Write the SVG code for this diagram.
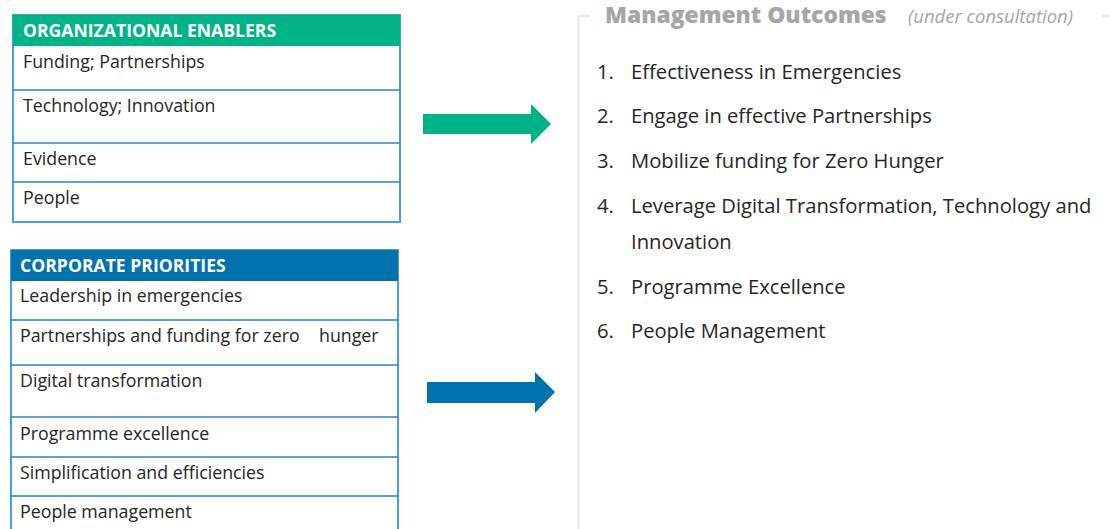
<svg xmlns="http://www.w3.org/2000/svg" width="1110" height="529" viewBox="0 0 1110 529">
  <style>
    .cell { font-family: "Open Sans", "Liberation Sans", sans-serif; font-size: 17.8px; fill: #262626; }
    .head { font-family: "Open Sans", "Liberation Sans", sans-serif; font-size: 17.6px; font-weight: bold; fill: #ffffff; }
    .frame { fill: #ffffff; stroke: #4aa0d6; stroke-width: 2; }
    .rule { stroke: #2d83c5; stroke-width: 1.6; }
    .item { font-family: "Open Sans", "Liberation Sans", sans-serif; font-size: 20.2px; fill: #262626; }
    .title { font-family: "Open Sans", "Liberation Sans", sans-serif; font-size: 22.8px; font-weight: 800; fill: #a6a6a6; }
    .sub { font-family: "Open Sans", "Liberation Sans", sans-serif; font-size: 18.5px; font-style: italic; fill: #a6a6a6; }
    .box { stroke: #ececec; stroke-width: 2.5; fill: none; }
  </style>

  <rect width="1110" height="529" fill="#ffffff"/>

  <!-- Organizational enablers table -->
  <g id="enablers">
    <rect class="frame" x="13" y="15" width="387" height="207"/>
    <rect x="13" y="15" width="387" height="31" fill="#00b386"/>
    <text class="head" x="23" y="37">ORGANIZATIONAL ENABLERS</text>
    <line class="rule" x1="13" y1="90" x2="400" y2="90"/>
    <line class="rule" x1="13" y1="143" x2="400" y2="143"/>
    <line class="rule" x1="13" y1="182" x2="400" y2="182"/>
    <text class="cell" x="23" y="68">Funding; Partnerships</text>
    <text class="cell" x="23" y="112">Technology; Innovation</text>
    <text class="cell" x="23" y="165">Evidence</text>
    <text class="cell" x="23" y="204">People</text>
  </g>

  <!-- Corporate priorities table -->
  <g id="priorities">
    <rect class="frame" x="11" y="250" width="387" height="290"/>
    <rect x="11" y="250" width="387" height="31" fill="#0072ae"/>
    <text class="head" x="20" y="272">CORPORATE PRIORITIES</text>
    <line class="rule" x1="11" y1="320" x2="398" y2="320"/>
    <line class="rule" x1="11" y1="365" x2="398" y2="365"/>
    <line class="rule" x1="11" y1="417" x2="398" y2="417"/>
    <line class="rule" x1="11" y1="457" x2="398" y2="457"/>
    <line class="rule" x1="11" y1="496" x2="398" y2="496"/>
    <text class="cell" x="20" y="302">Leadership in emergencies</text>
    <text class="cell" x="20" y="342">Partnerships and funding for zero<tspan x="319">hunger</tspan></text>
    <text class="cell" x="20" y="387">Digital transformation</text>
    <text class="cell" x="20" y="440">Programme excellence</text>
    <text class="cell" x="20" y="479">Simplification and efficiencies</text>
    <text class="cell" x="20" y="518">People management</text>
  </g>

  <!-- Block arrows -->
  <g id="connectors">
    <polygon points="423,114 531,114 531,104 551,124 531,144 531,134 423,134" fill="#00b386"/>
    <polygon points="427,382 535,382 535,372 555,392 535,413 535,403 427,403" fill="#0072ae"/>
  </g>

  <!-- Management outcomes panel -->
  <g id="outcomes">
    <path class="box" d="M590,16 H578.5 V529"/>
    <line class="box" x1="1102" y1="16" x2="1110" y2="16"/>
    <text class="title" x="605" y="23">Management Outcomes</text>
    <text class="sub" x="908" y="23">(under consultation)</text>
    <text class="item" x="597" y="79">1.</text>
    <text class="item" x="631" y="79">Effectiveness in Emergencies</text>
    <text class="item" x="597" y="123">2.</text>
    <text class="item" x="631" y="123">Engage in effective Partnerships</text>
    <text class="item" x="597" y="168">3.</text>
    <text class="item" x="631" y="168">Mobilize funding for Zero Hunger</text>
    <text class="item" x="597" y="213">4.</text>
    <text class="item" x="631" y="213">Leverage Digital Transformation, Technology and</text>
    <text class="item" x="631" y="249">Innovation</text>
    <text class="item" x="597" y="294">5.</text>
    <text class="item" x="631" y="294">Programme Excellence</text>
    <text class="item" x="597" y="338">6.</text>
    <text class="item" x="631" y="338">People Management</text>
  </g>
</svg>
